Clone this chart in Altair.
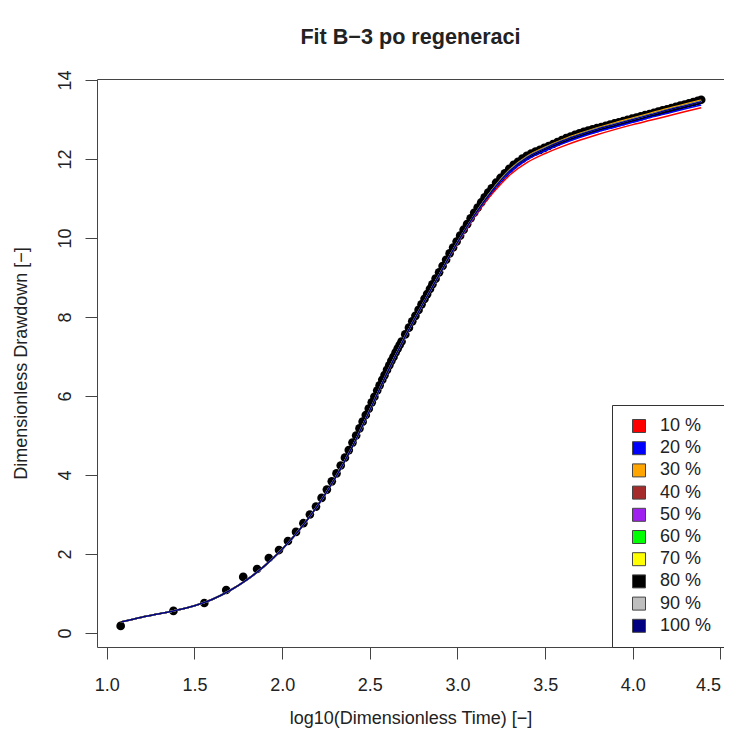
import altair as alt
import pandas as pd

FONT = "Liberation Sans"
INK = "#222222"
FRAME = "#444444"

chart_title = "Fit B\u22123 po regeneraci"
x_title = "log10(Dimensionless Time) [\u2212]"
y_title = "Dimensionless Drawdown [\u2212]"

x_ticks = [1.0, 1.5, 2.0, 2.5, 3.0, 3.5, 4.0, 4.5]
y_ticks = [0, 2, 4, 6, 8, 10, 12, 14]

legend_labels = ["10 %", "20 %", "30 %", "40 %", "50 %", "60 %", "70 %", "80 %", "90 %", "100 %"]
legend_colors = ["#FF0000", "#0000FF", "#FFA500", "#A52A2A", "#A020F0",
                 "#00FF00", "#FFFF00", "#000000", "#BEBEBE", "#000080"]

# observed drawdown (black points)
obs_x = [1.079, 1.380, 1.556, 1.681, 1.778, 1.857, 1.924, 1.982, 2.033, 2.079,
         2.121, 2.158, 2.193, 2.225, 2.255, 2.283, 2.310, 2.334, 2.358, 2.380,
         2.401, 2.422, 2.441, 2.459, 2.477, 2.494, 2.511, 2.526, 2.542, 2.556,
         2.571, 2.584, 2.598, 2.611, 2.623, 2.635, 2.647, 2.659, 2.670, 2.681,
         2.702, 2.723, 2.742, 2.760, 2.778, 2.795, 2.812, 2.827, 2.843, 2.857,
         2.875, 2.895, 2.915, 2.935, 2.955, 2.975, 2.995, 3.015, 3.035, 3.055,
         3.075, 3.095, 3.115, 3.135, 3.155, 3.175, 3.195, 3.220, 3.245, 3.270,
         3.295, 3.320, 3.345, 3.370, 3.395, 3.420, 3.445, 3.470, 3.495, 3.520,
         3.545, 3.570, 3.595, 3.620, 3.645, 3.670, 3.695, 3.720, 3.745, 3.770,
         3.795, 3.820, 3.845, 3.870, 3.895, 3.920, 3.945, 3.970, 3.995, 4.020,
         4.045, 4.070, 4.095, 4.120, 4.145, 4.170, 4.195, 4.220, 4.245, 4.270,
         4.295, 4.320, 4.345, 4.370, 4.390]
obs_y = [0.18, 0.56, 0.76, 1.09, 1.42, 1.62, 1.90, 2.10, 2.33, 2.56,
         2.78, 3.00, 3.20, 3.42, 3.63, 3.84, 4.04, 4.24, 4.44, 4.63,
         4.82, 5.00, 5.18, 5.35, 5.52, 5.68, 5.84, 5.98, 6.14, 6.27,
         6.41, 6.53, 6.66, 6.78, 6.89, 6.99, 7.10, 7.20, 7.29, 7.38,
         7.56, 7.73, 7.89, 8.03, 8.18, 8.32, 8.46, 8.58, 8.71, 8.83,
         8.97, 9.13, 9.29, 9.45, 9.61, 9.76, 9.91, 10.06, 10.21, 10.35,
         10.50, 10.64, 10.77, 10.90, 11.03, 11.15, 11.26, 11.40, 11.52, 11.64,
         11.75, 11.85, 11.93, 12.01, 12.08, 12.14, 12.19, 12.23, 12.28, 12.33,
         12.38, 12.43, 12.48, 12.53, 12.57, 12.61, 12.65, 12.69, 12.72, 12.75,
         12.78, 12.81, 12.84, 12.87, 12.90, 12.93, 12.96, 12.99, 13.02, 13.05,
         13.08, 13.11, 13.14, 13.17, 13.20, 13.23, 13.26, 13.29, 13.32, 13.35,
         13.38, 13.41, 13.44, 13.47, 13.50]

# fitted curves
fit_x = [1.08, 1.2, 1.3, 1.38, 1.5, 1.6, 1.7, 1.8, 1.9, 2.0, 2.1, 2.2, 2.3, 2.4, 2.5,
         2.6, 2.7, 2.8, 2.9, 3.0, 3.1, 3.2, 3.3, 3.4, 3.5, 3.6, 3.7, 3.8, 3.9, 4.0,
         4.1, 4.2, 4.3, 4.39]
fit_10 = [0.28, 0.40, 0.49, 0.56, 0.69, 0.85, 1.07, 1.35, 1.70, 2.12, 2.62, 3.21, 3.90, 4.71, 5.64,
          6.60, 7.49, 8.31, 9.10, 9.86, 10.55, 11.13, 11.60, 11.92, 12.14, 12.32, 12.48, 12.62, 12.75, 12.87,
          12.98, 13.09, 13.20, 13.30]
fit_20 = [0.28, 0.40, 0.49, 0.56, 0.69, 0.85, 1.07, 1.35, 1.70, 2.12, 2.62, 3.21, 3.90, 4.71, 5.64,
          6.60, 7.49, 8.31, 9.10, 9.87, 10.57, 11.18, 11.66, 11.99, 12.21, 12.39, 12.55, 12.69, 12.81, 12.93,
          13.05, 13.16, 13.27, 13.37]
fit_30 = [0.28, 0.40, 0.49, 0.56, 0.69, 0.85, 1.07, 1.35, 1.70, 2.12, 2.62, 3.21, 3.90, 4.71, 5.64,
          6.60, 7.49, 8.31, 9.10, 9.89, 10.60, 11.23, 11.74, 12.08, 12.30, 12.49, 12.65, 12.79, 12.92, 13.04,
          13.16, 13.28, 13.39, 13.49]
fit_40 = [0.28, 0.40, 0.49, 0.56, 0.69, 0.85, 1.07, 1.35, 1.70, 2.12, 2.62, 3.21, 3.90, 4.71, 5.64,
          6.60, 7.49, 8.31, 9.10, 9.89, 10.60, 11.22, 11.72, 12.06, 12.28, 12.47, 12.63, 12.77, 12.89, 13.01,
          13.13, 13.25, 13.36, 13.46]
fit_50 = fit_40
fit_60 = fit_40
fit_70 = fit_40
fit_80 = fit_40
fit_90 = fit_40
fit_100 = [0.28, 0.40, 0.49, 0.56, 0.69, 0.85, 1.07, 1.35, 1.70, 2.12, 2.62, 3.21, 3.90, 4.71, 5.64,
           6.60, 7.49, 8.31, 9.10, 9.89, 10.60, 11.21, 11.71, 12.05, 12.27, 12.46, 12.62, 12.76, 12.88, 13.00,
           13.12, 13.24, 13.35, 13.45]
fit_series = [fit_10, fit_20, fit_30, fit_40, fit_50, fit_60, fit_70, fit_80, fit_90, fit_100]

x_scale = alt.Scale(domain=[0.944, 4.52], nice=False, zero=False)
y_scale = alt.Scale(domain=[-0.354, 14.025], nice=False, zero=False)

x_axis = alt.Axis(values=x_ticks, format=".1f", domain=False, grid=False,
                  tickSize=12, tickColor=FRAME, tickWidth=1,
                  labelFont=FONT, labelFontSize=18, labelColor=INK,
                  labelBaseline="alphabetic", labelPadding=31,
                  labelFlush=5, labelOverlap=False, labelBound=False,
                  title=x_title, titleFont=FONT, titleFontSize=18, titleFontWeight="normal",
                  titleColor=INK, titleY=76, titleBaseline="alphabetic")
y_axis = alt.Axis(values=y_ticks, format="d", domain=False, grid=False,
                  tickSize=12, tickColor=FRAME, tickWidth=1,
                  labelFont=FONT, labelFontSize=18, labelColor=INK,
                  labelAngle=270, labelAlign="center", labelBaseline="alphabetic",
                  labelPadding=15, labelFlush=False, labelOverlap=False, labelBound=False,
                  title=y_title, titleFont=FONT, titleFontSize=18, titleFontWeight="normal",
                  titleColor=INK, titleAngle=270, titleX=-76, titleY=284,
                  titleAlign="center", titleBaseline="middle")

X = alt.X("x:Q", scale=x_scale, axis=x_axis)
Y = alt.Y("y:Q", scale=y_scale, axis=y_axis)

obs_df = pd.DataFrame({"x": obs_x, "y": obs_y})
points = alt.Chart(obs_df).mark_circle(size=75, color="black", opacity=1).encode(x=X, y=Y)

line_layers = []
for label, color, ys in zip(legend_labels, legend_colors, fit_series):
    df = pd.DataFrame({"x": fit_x, "y": ys})
    line_layers.append(
        alt.Chart(df).mark_line(color=color, strokeWidth=1.5, interpolate="monotone").encode(x=X, y=Y)
    )

legend_df = pd.DataFrame({"label": legend_labels})
legend_layer = alt.Chart(legend_df).mark_square(filled=True, opacity=1, size=169).encode(
    color=alt.Color("label:N",
                    scale=alt.Scale(domain=legend_labels, range=legend_colors),
                    legend=alt.Legend(title=None, orient="bottom-right", offset=0,
                                      symbolType="square", symbolSize=169,
                                      symbolStrokeColor=FRAME, symbolStrokeWidth=1,
                                      symbolOpacity=1, symbolOffset=6,
                                      labelFont=FONT, labelFontSize=18, labelColor=INK,
                                      labelOffset=12, padding=12, rowPadding=4.2,
                                      strokeColor="#333333", fillColor="white"))
).transform_filter("false")

chart = alt.layer(points, *line_layers, legend_layer).properties(
    width=627,
    height=568,
    title=alt.Title(chart_title, font=FONT, fontSize=21.6, fontWeight="bold", color=INK,
                    anchor="middle", frame="group", offset=4, baseline="alphabetic"),
    autosize=alt.AutoSizeParams(type="none"),
    padding={"left": 89, "top": 71, "right": 0, "bottom": 81},
).configure_view(stroke=FRAME, strokeWidth=1)

chart.save("out.html", embed_options={"renderer": "svg", "actions": False})
